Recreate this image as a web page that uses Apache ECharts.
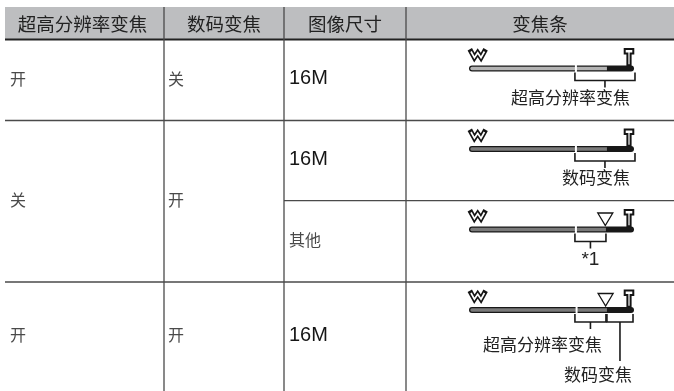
<!DOCTYPE html>
<html><head><meta charset="utf-8">
<script src="https://cdn.jsdelivr.net/npm/echarts@6/dist/echarts.min.js"></script>
<style>html,body{margin:0;padding:0;background:#fff}#c{width:674px;height:391px}</style>
</head><body><div id="c"></div>
<script>
// ---- table content ----
const headers = ['超高分辨率变焦', '数码变焦', '图像尺寸', '变焦条'];
const superResSetting = ['开', '关', '开'];
const digitalSetting = ['关', '开', '开'];
const imageSizes = ['16M', '16M', '其他', '16M'];

// ---- zoom bar values, on a W(0) .. T(1) scale, one per image-size row ----
const barRows = [0, 1, 2, 3];
const opticalEnd = [0.648, 0.648, 0.648, 0.652];
const digitalStart = [0.836, 0.836, 0.83, 0.836];
const markerAt = ['-', '-', 0.826, 0.828];
const bracketRow = [0, 1, 2, 3, 3];
const bracketFrom = [0.642, 0.642, 0.642, 0.642, 0.836];
const bracketTo = [1.006, 1.006, 0.83, 0.83, 0.994];
const bracketLabel = ['超高分辨率变焦', '数码变焦', '*1', '超高分辨率变焦', '数码变焦'];

// ---- layout (pixels) ----
const W = 674, H = 391;
const colEdges = [5, 164, 284, 406, 674];
const headerTop = 7, headerBottom = 39.5;
const sizeRowEdges = [39.5, 120.5, 200.7, 282, 391];
const settingRowEdges = [[39.5, 120.5], [120.5, 282], [282, 391]];
const bracketLayout = [
  {tick: 7, dy: 29, align: 'right', dx: -5},
  {tick: 7, dy: 29, align: 'right', dx: -5},
  {tick: 7, dy: 30, align: 'center', dx: 0},
  {tick: 7, dy: 35, align: 'right', dx: -4},
  {tick: 39, dy: 65, align: 'right', dx: -1}
];
const CJK = "'Noto Sans CJK SC', sans-serif";
const LAT = "'Liberation Sans', Arial, sans-serif";

// table line segments
const segs = [
  [colEdges[0], headerBottom, W, headerBottom, 0],
  [colEdges[0], sizeRowEdges[1], W, sizeRowEdges[1], 1],
  [colEdges[2], sizeRowEdges[2], W, sizeRowEdges[2], 1],
  [colEdges[0], sizeRowEdges[3], W, sizeRowEdges[3], 1]
];
[1, 2, 3].forEach(i => segs.push([colEdges[i], headerTop, colEdges[i], H, 1]));

// text cells
const cells = [];
headers.forEach((t, i) => cells.push([(colEdges[i] + colEdges[i + 1]) / 2 - (i === 0 ? 2 : 0), (headerTop + headerBottom) / 2 + 0.5, t, 'h']));
superResSetting.forEach((t, i) => cells.push([colEdges[0] + 5, (settingRowEdges[i][0] + settingRowEdges[i][1]) / 2 - 1.5, t, 'c']));
digitalSetting.forEach((t, i) => cells.push([colEdges[1] + 4, (settingRowEdges[i][0] + settingRowEdges[i][1]) / 2 - 1.5, t, 'c']));
imageSizes.forEach((t, i) => cells.push([colEdges[2] + 5, (sizeRowEdges[i] + sizeRowEdges[i + 1]) / 2 - 1.5, t, /^[\x00-\x7f]+$/.test(t) ? 'l' : 'c']));

const barData = barRows.map((r, i) => [r, opticalEnd[i], digitalStart[i], markerAt[i]]);
const bracketData = bracketRow.map((r, i) => [r, bracketFrom[i], bracketTo[i], i]);

const chart = echarts.init(document.getElementById('c'), null, {renderer: 'canvas'});
chart.setOption({
  animation: false,
  backgroundColor: '#fff',
  grid: [
    {left: 0, right: 0, top: 0, bottom: 0},
    {left: 469, right: W - 634, top: 68.5, height: 241.5}
  ],
  xAxis: [
    {type: 'value', gridIndex: 0, min: 0, max: W, show: false},
    {type: 'value', gridIndex: 1, min: 0, max: 1, show: false}
  ],
  yAxis: [
    {type: 'value', gridIndex: 0, min: 0, max: H, inverse: true, show: false},
    {type: 'value', gridIndex: 1, min: 0, max: 3, inverse: true, show: false}
  ],
  series: [
    { // header background
      type: 'custom', xAxisIndex: 0, yAxisIndex: 0, clip: false, z: 1,
      data: [[colEdges[0], headerTop, W, headerBottom]],
      renderItem(p, api) {
        const a = api.coord([api.value(0), api.value(1)]), b = api.coord([api.value(2), api.value(3)]);
        return {type: 'rect', shape: {x: a[0], y: a[1], width: b[0] - a[0], height: b[1] - a[1]}, style: {fill: '#bdbec0'}};
      }
    },
    { // table lines
      type: 'custom', xAxisIndex: 0, yAxisIndex: 0, clip: false, z: 2,
      data: segs,
      renderItem(p, api) {
        const a = api.coord([api.value(0), api.value(1)]), b = api.coord([api.value(2), api.value(3)]);
        const dark = api.value(4) === 0;
        return {type: 'line', shape: {x1: a[0], y1: a[1], x2: b[0], y2: b[1]},
          style: {stroke: dark ? '#222' : '#4a4a4a', lineWidth: dark ? 1.8 : 1.3}};
      }
    },
    { // texts
      type: 'custom', xAxisIndex: 0, yAxisIndex: 0, clip: false, z: 3,
      data: cells,
      renderItem(p, api) {
        const c = cells[p.dataIndex];
        const a = api.coord([c[0], c[1]]);
        const kind = c[3];
        const font = kind === 'h' ? "18.5px " + CJK : kind === 'l' ? "20px " + LAT : "16px " + CJK;
        return {type: 'text', style: {text: c[2], x: a[0], y: a[1], font,
          fill: kind === 'h' ? '#222' : kind === 'l' ? '#161616' : '#4a4a4a',
          align: kind === 'h' ? 'center' : 'left', verticalAlign: 'middle'}};
      }
    },
    { // zoom bars
      type: 'custom', xAxisIndex: 1, yAxisIndex: 1, clip: false, z: 4,
      data: barData,
      renderItem(p, api) {
        const r = api.value(0), oe = api.value(1), ds = api.value(2), mk = api.value(3);
        const a = api.coord([0, r]), b = api.coord([1, r]), g = api.coord([oe, r]), d = api.coord([ds, r]);
        const cy = a[1], x0 = a[0], x1 = b[0];
        const fill = r === 0 ? '#b3b3b3' : '#7a7a7a';
        const wpts = [[x0 + 2, cy - 17], [x0 + 5.4, cy - 10.8], [x0 + 8.7, cy - 15.8], [x0 + 12, cy - 10.8], [x0 + 15.4, cy - 17]];
        const cx = x1 - 5;
        const tpts = [[cx - 4.3, cy - 19.5], [cx + 4.3, cy - 19.5], [cx + 4.3, cy - 15], [cx + 1.6, cy - 15], [cx + 1.6, cy - 3.2], [cx - 1.6, cy - 3.2], [cx - 1.6, cy - 15], [cx - 4.3, cy - 15]];
        const ch = [
          {type: 'rect', shape: {x: x0, y: cy - 3, width: x1 - x0, height: 6, r: 3}, style: {fill: '#181818'}},
          {type: 'rect', shape: {x: x0 + 1.3, y: cy - 1.7, width: d[0] - x0 - 1.3, height: 3.4, r: [1.7, 0, 0, 1.7]}, style: {fill}},
          {type: 'rect', shape: {x: g[0] - 1, y: cy - 4.5, width: 2, height: 9}, style: {fill: '#fff'}},
          {type: 'polyline', shape: {points: wpts}, style: {stroke: '#151515', lineWidth: 5, fill: null, lineJoin: 'miter', miterLimit: 3, lineCap: 'square'}},
          {type: 'polyline', shape: {points: wpts}, style: {stroke: '#fff', lineWidth: 1.7, fill: null, lineJoin: 'miter', miterLimit: 3}},
          {type: 'polygon', shape: {points: tpts}, style: {fill: '#fff', stroke: '#151515', lineWidth: 2}}
        ];
        if (!isNaN(mk)) {
          const m = api.coord([mk, r]);
          ch.push({type: 'polygon', shape: {points: [[m[0] - 7.5, cy - 16.5], [m[0] + 7.5, cy - 16.5], [m[0], cy - 4]]},
            style: {fill: '#fff', stroke: '#151515', lineWidth: 1.3}});
        }
        return {type: 'group', children: ch};
      }
    },
    { // brackets and their labels
      type: 'custom', xAxisIndex: 1, yAxisIndex: 1, clip: false, z: 5,
      data: bracketData,
      renderItem(p, api) {
        const r = api.value(0), f = api.value(1), t = api.value(2), idx = api.value(3);
        const L = bracketLayout[idx];
        const a = api.coord([f, r]), b = api.coord([t, r]);
        const cy = a[1], yb = cy + 12, mid = (a[0] + b[0]) / 2;
        const text = bracketLabel[idx];
        const isLat = /^[\x00-\x7f]+$/.test(text);
        return {type: 'group', children: [
          {type: 'polyline', shape: {points: [[a[0], cy + 4], [a[0], yb], [b[0], yb], [b[0], cy + 4]]},
            style: {stroke: '#1a1a1a', lineWidth: 1.6, fill: null}},
          {type: 'line', shape: {x1: mid, y1: yb, x2: mid, y2: yb + L.tick}, style: {stroke: '#1a1a1a', lineWidth: 1.6}},
          {type: 'text', style: {text, x: L.align === 'center' ? mid : b[0] + L.dx, y: cy + L.dy,
            font: isLat ? "19px " + LAT : "17px " + CJK, fill: '#222', align: L.align, verticalAlign: 'middle'}}
        ]};
      }
    }
  ]
});
</script></body></html>
